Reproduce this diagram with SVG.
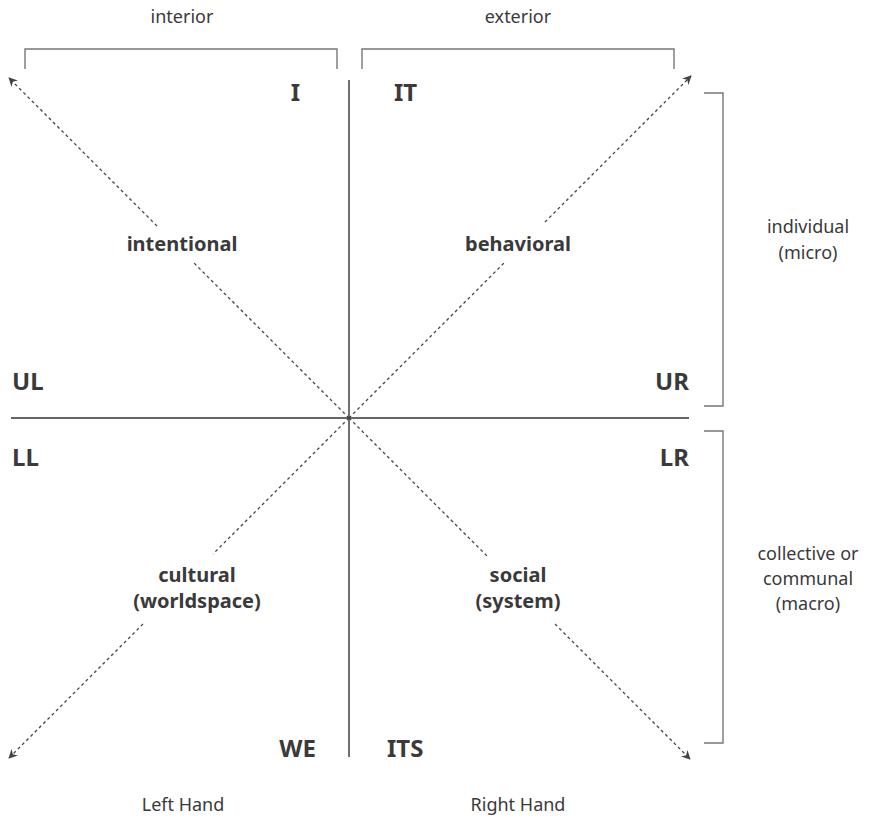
<svg xmlns="http://www.w3.org/2000/svg" width="877" height="818" viewBox="0 0 877 818">
<style>
text{font-family:"Noto Sans","Open Sans",sans-serif;fill:#3a3a3a}
.lbl{font-size:18px;text-anchor:middle}
.q{font-size:20px;font-weight:bold;text-anchor:middle}
.big{font-size:24px;font-weight:bold}
.axis{stroke:#333;stroke-width:1.4;fill:none}
.br{stroke:#777;stroke-width:1.4;fill:none}
.dash{stroke:#444;stroke-width:1.3;stroke-dasharray:3 3;fill:none}
</style>
<defs>
<marker id="ah" viewBox="0 0 10 10" refX="9" refY="5" markerWidth="9" markerHeight="9" markerUnits="userSpaceOnUse" orient="auto">
<path d="M0,0 L10,5 L0,10 L3,5 Z" fill="#444"/>
</marker>
</defs>
<rect width="877" height="818" fill="#fff"/>
<g id="connectors">
<line class="axis" x1="349" y1="80" x2="349" y2="757"/>
<line class="axis" x1="11" y1="418" x2="689" y2="418"/>
<line class="dash" x1="157" y1="226" x2="9" y2="78" marker-end="url(#ah)"/>
<line class="dash" x1="349" y1="418" x2="194" y2="263"/>
<line class="dash" x1="545" y1="222" x2="691" y2="76" marker-end="url(#ah)"/>
<line class="dash" x1="349" y1="418" x2="504" y2="263"/>
<line class="dash" x1="349" y1="418" x2="213" y2="554"/>
<line class="dash" x1="143" y1="624" x2="9" y2="758" marker-end="url(#ah)"/>
<line class="dash" x1="349" y1="418" x2="487" y2="556"/>
<line class="dash" x1="555" y1="624" x2="690" y2="759" marker-end="url(#ah)"/>
</g>
<g id="brackets">
<path class="br" d="M25,69 V49 H337 V69"/>
<path class="br" d="M362,69 V49 H674 V69"/>
<path class="br" d="M704,93 H723 V406 H704"/>
<path class="br" d="M704,431 H723 V743 H704"/>
</g>
<g id="interior"><text class="lbl" x="182" y="23">interior</text></g>
<g id="exterior"><text class="lbl" x="518" y="23">exterior</text></g>
<g id="individual"><text class="lbl" x="808" y="233">individual</text><text class="lbl" x="808" y="259">(micro)</text></g>
<g id="collective"><text class="lbl" x="808" y="560">collective or</text><text class="lbl" x="808" y="585">communal</text><text class="lbl" x="808" y="610">(macro)</text></g>
<g id="left-hand"><text class="lbl" x="183" y="811">Left Hand</text></g>
<g id="right-hand"><text class="lbl" x="518" y="811">Right Hand</text></g>
<g id="I"><text class="big" x="300" y="101" text-anchor="end">I</text></g>
<g id="IT"><text class="big" x="394" y="101">IT</text></g>
<g id="UL"><text class="big" x="12" y="390">UL</text></g>
<g id="UR"><text class="big" x="689" y="390" text-anchor="end">UR</text></g>
<g id="LL"><text class="big" x="12" y="466">LL</text></g>
<g id="LR"><text class="big" x="689" y="466" text-anchor="end">LR</text></g>
<g id="WE"><text class="big" x="316" y="757" text-anchor="end">WE</text></g>
<g id="ITS"><text class="big" x="387" y="757">ITS</text></g>
<g id="intentional"><text class="q" x="182" y="251">intentional</text></g>
<g id="behavioral"><text class="q" x="518" y="251">behavioral</text></g>
<g id="cultural"><text class="q" x="197" y="582">cultural</text><text class="q" x="197" y="608">(worldspace)</text></g>
<g id="social"><text class="q" x="518" y="582">social</text><text class="q" x="518" y="608">(system)</text></g>
</svg>
